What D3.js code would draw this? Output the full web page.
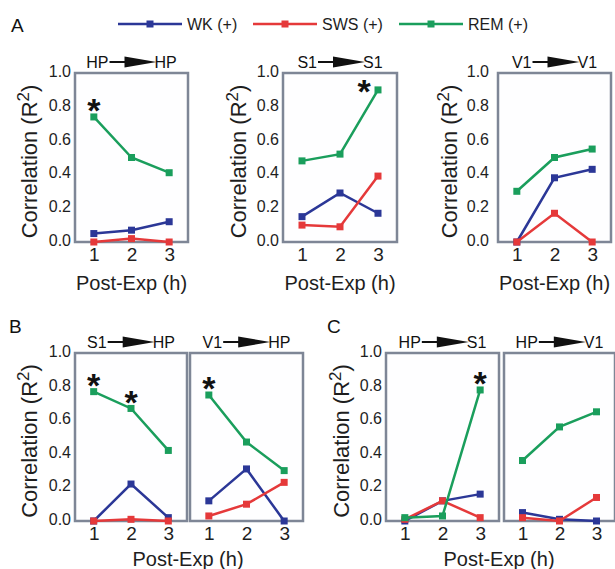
<!DOCTYPE html>
<html>
<head>
<meta charset="utf-8">
<script src="https://cdn.jsdelivr.net/npm/d3@7"></script>
<style>
  body { margin: 0; background: #fff; }
  svg { display: block; font-family: "Liberation Sans", Arial, sans-serif; }
</style>
</head>
<body>
<div id="chart"></div>
<script>
// post-experience hours
var hours = [1, 2, 3];
var yTicks = [0, 0.2, 0.4, 0.6, 0.8, 1.0];

// R2 values per panel
var wk_HP_HP  = [0.05, 0.07, 0.12];
var sws_HP_HP = [0.00, 0.02, 0.00];
var rem_HP_HP = [0.74, 0.50, 0.41];

var wk_S1_S1  = [0.15, 0.29, 0.17];
var sws_S1_S1 = [0.10, 0.09, 0.39];
var rem_S1_S1 = [0.48, 0.52, 0.90];

var wk_V1_V1  = [0.00, 0.38, 0.43];
var sws_V1_V1 = [0.00, 0.17, 0.00];
var rem_V1_V1 = [0.30, 0.50, 0.55];

var wk_S1_HP  = [0.00, 0.22, 0.02];
var sws_S1_HP = [0.00, 0.01, 0.00];
var rem_S1_HP = [0.77, 0.67, 0.42];

var wk_V1_HP  = [0.12, 0.31, 0.00];
var sws_V1_HP = [0.03, 0.10, 0.23];
var rem_V1_HP = [0.75, 0.47, 0.30];

var wk_HP_S1  = [0.00, 0.12, 0.16];
var sws_HP_S1 = [0.01, 0.12, 0.02];
var rem_HP_S1 = [0.02, 0.03, 0.78];

var wk_HP_V1  = [0.05, 0.01, 0.00];
var sws_HP_V1 = [0.02, 0.00, 0.14];
var rem_HP_V1 = [0.36, 0.56, 0.65];

// significant points (hour index per panel)
var stars_HP_HP = [1];
var stars_S1_S1 = [3];
var stars_S1_HP = [1, 2];
var stars_V1_HP = [1];
var stars_HP_S1 = [3];

var seriesNames = ["WK (+)", "SWS (+)", "REM (+)"];
var colors = ["#2b3797", "#e5393a", "#1a9e5c"];

var width = 615, height = 569;
var svg = d3.select("#chart").append("svg")
  .attr("width", width).attr("height", height);

var rowA = d3.scaleLinear().domain([0, 1]).range([242, 73]);
var rowB = d3.scaleLinear().domain([0, 1]).range([521, 353]);

var panels = [
  { from: "HP", to: "HP", s: [wk_HP_HP, sws_HP_HP, rem_HP_HP], stars: stars_HP_HP, x0: 75,  x1: 188, y: rowA, yAxis: true, yLab: 29,  xLab: true },
  { from: "S1", to: "S1", s: [wk_S1_S1, sws_S1_S1, rem_S1_S1], stars: stars_S1_S1, x0: 283, x1: 397, y: rowA, yAxis: true, yLab: 238, xLab: true, starDx: -14, starDy: 8 },
  { from: "V1", to: "V1", s: [wk_V1_V1, sws_V1_V1, rem_V1_V1], stars: [],          x0: 498, x1: 611, y: rowA, yAxis: true, yLab: 449, xLab: true, yGap: 8 },
  { from: "S1", to: "HP", s: [wk_S1_HP, sws_S1_HP, rem_S1_HP], stars: stars_S1_HP, x0: 75,  x1: 187, y: rowB, yAxis: true, yLab: 29 },
  { from: "V1", to: "HP", s: [wk_V1_HP, sws_V1_HP, rem_V1_HP], stars: stars_V1_HP, x0: 190, x1: 303, y: rowB, yAxis: false },
  { from: "HP", to: "S1", s: [wk_HP_S1, sws_HP_S1, rem_HP_S1], stars: stars_HP_S1, x0: 386, x1: 499, y: rowB, yAxis: true, yLab: 341 },
  { from: "HP", to: "V1", s: [wk_HP_V1, sws_HP_V1, rem_HP_V1], stars: [],          x0: 504, x1: 615, y: rowB, yAxis: false }
];

var boxColor = "#7e8696";
var ink = "#1e1e1e";

panels.forEach(function(p) {
  var x = d3.scaleLinear().domain([0.5, 3.5]).range([p.x0, p.x1]);
  var y = p.y;
  var g = svg.append("g");

  g.append("rect")
    .attr("x", p.x0).attr("y", y(1))
    .attr("width", p.x1 - p.x0).attr("height", y(0) - y(1))
    .attr("fill", "#fefeff")
    .attr("stroke", boxColor).attr("stroke-width", 2.5);

  if (p.yAxis) {
    var ya = g.append("g")
      .attr("transform", "translate(" + (p.x0 - (p.yGap || 3)) + ",0)")
      .call(d3.axisLeft(y).tickValues(yTicks).tickFormat(d3.format(".1f")).tickSize(0).tickPadding(1));
    ya.select(".domain").remove();
    ya.selectAll("text").attr("font-size", 16).attr("fill", ink).attr("font-family", null)
      .attr("dy", "0.22em");

    var yl = g.append("text")
      .attr("transform", "translate(" + (p.yLab + 8) + "," + ((y(0) + y(1)) / 2 + 4) + ") rotate(-90)")
      .attr("text-anchor", "middle")
      .attr("font-size", 22).attr("fill", ink);
    yl.append("tspan").text("Correlation (R");
    yl.append("tspan").attr("font-size", 17).attr("dy", -8).text("2");
    yl.append("tspan").attr("dy", 8).text(")");
  }

  var xa = g.append("g")
    .attr("transform", "translate(0," + y(0) + ")")
    .call(d3.axisBottom(x).tickValues(hours).tickFormat(d3.format("d")).tickSize(0).tickPadding(6));
  xa.select(".domain").remove();
  xa.selectAll("text").attr("font-size", 19).attr("fill", ink).attr("font-family", null);

  if (p.xLab) {
    g.append("text")
      .attr("x", (p.x0 + p.x1) / 2).attr("y", y(0) + 48)
      .attr("text-anchor", "middle").attr("font-size", 20).attr("fill", ink)
      .text("Post-Exp (h)");
  }

  // title: FROM ---> TO
  var t = g.append("g");
  var t1 = t.append("text").attr("font-size", 16).attr("fill", "#111").text(p.from);
  var w1 = t1.node().getComputedTextLength();
  t.append("line").attr("x1", w1 + 1).attr("x2", w1 + 17).attr("y1", -6).attr("y2", -6)
    .attr("stroke", "#111").attr("stroke-width", 2);
  t.append("path").attr("d", "M" + (w1 + 16) + "," + (-11.5) + "L" + (w1 + 48) + "," + (-6) + "L" + (w1 + 16) + "," + (-0.5) + "Z")
    .attr("fill", "#111");
  var t2 = t.append("text").attr("x", w1 + 46).attr("font-size", 16).attr("fill", "#111").text(p.to);
  var tw = w1 + 46 + t2.node().getComputedTextLength();
  t.attr("transform", "translate(" + ((p.x0 + p.x1) / 2 - tw / 2) + "," + (y(1) - 5) + ")");

  var line = d3.line().x(function(d, i) { return x(hours[i]); }).y(function(d) { return y(d); });

  p.s.forEach(function(vals, k) {
    g.append("path").datum(vals)
      .attr("d", line).attr("fill", "none")
      .attr("stroke", colors[k]).attr("stroke-width", 2.5);
    g.selectAll(null).data(vals).enter().append("rect")
      .attr("x", function(d, i) { return x(hours[i]) - 3.5; })
      .attr("y", function(d) { return y(d) - 3.5; })
      .attr("width", 7).attr("height", 7)
      .attr("fill", colors[k]);
  });

  p.stars.forEach(function(h) {
    var v = p.s[2][h - 1];
    g.append("text")
      .attr("x", x(h) + (p.starDx || 0))
      .attr("y", y(v) - 15 + (p.starDy || 0))
      .attr("dy", "0.6em")
      .attr("text-anchor", "middle")
      .attr("font-size", 34).attr("font-weight", "bold").attr("fill", "#111")
      .text("*");
  });
});

// shared x labels for B and C
svg.append("text").attr("x", 188).attr("y", 566).attr("text-anchor", "middle")
  .attr("font-size", 20).attr("fill", ink).text("Post-Exp (h)");
svg.append("text").attr("x", 499).attr("y", 566).attr("text-anchor", "middle")
  .attr("font-size", 20).attr("fill", ink).text("Post-Exp (h)");

// panel letters
[["A", 11, 32], ["B", 9, 333], ["C", 327, 333]].forEach(function(l) {
  svg.append("text").attr("x", l[1]).attr("y", l[2]).attr("font-size", 19).attr("fill", "#111").text(l[0]);
});

// legend
var legendX = [118, 253, 399];
seriesNames.forEach(function(name, k) {
  var lx = legendX[k];
  svg.append("line").attr("x1", lx).attr("x2", lx + 64).attr("y1", 24).attr("y2", 24)
    .attr("stroke", colors[k]).attr("stroke-width", 2.5);
  svg.append("rect").attr("x", lx + 28.5).attr("y", 20.5).attr("width", 7).attr("height", 7)
    .attr("fill", colors[k]);
  svg.append("text").attr("x", lx + 69).attr("y", 30).attr("font-size", 16).attr("fill", ink).text(name);
});
</script>
</body>
</html>
